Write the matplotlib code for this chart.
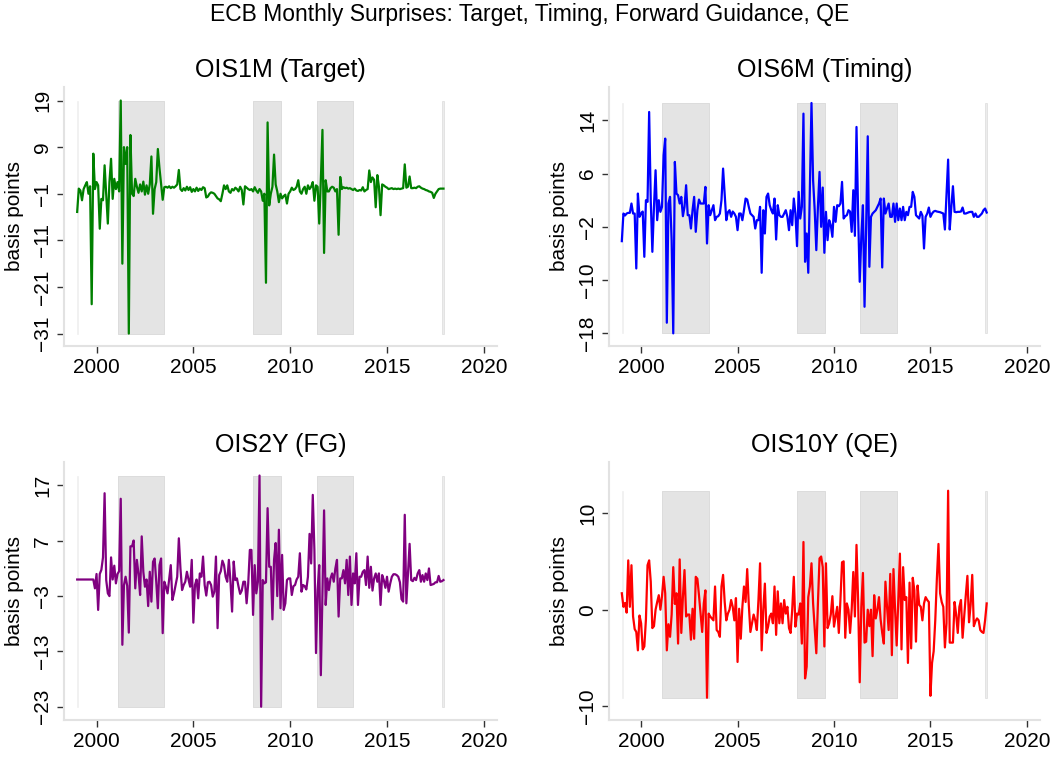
import numpy as np
import pandas as pd
import matplotlib
matplotlib.use("Agg")
import matplotlib.pyplot as plt

plt.rcParams["font.family"] = ["Liberation Sans", "DejaVu Sans"]

# monthly surprises, Jan 1999 - Dec 2017 (basis points), one row per year
ois1m = [
    -4.9, 0.1, -0.3, -2.4, 0.0, 0.8, 1.5, -1.0, 0.6, -24.7, 7.6, 0.0,
    1.5, 0.8, -8.5, -2.1, -2.4, 5.1, -1.0, -7.4, 1.5, 6.5, -2.1, 2.2,
    0.0, 1.5, -0.5, 19.0, -16.0, 9.0, 5.4, 9.0, -31.0, 11.6, -1.0, -1.5,
    2.2, 0.5, -0.8, 1.0, -0.5, 1.6, -1.2, 0.8, -1.0, 1.0, 7.0, -5.3,
    0.0, 1.5, 8.6, 4.5, 1.0, -2.3, 0.4, 0.5, 0.3, 0.6, 0.2, 0.5,
    0.3, 0.6, 1.0, 4.1, 0.0, -0.4, 0.2, -0.3, 0.5, -0.2, 0.4, -0.6,
    0.0, -0.5, 0.3, -0.4, 0.1, -0.2, 0.4, 0.2, -1.8, -1.6, -1.0, -0.7,
    -0.8, -1.0, -1.5, -2.0, -2.2, -2.6, -1.0, 0.8, 0.0, 0.8, -0.5, -0.8,
    0.0, -0.3, 0.3, 0.0, -0.5, 0.5, -0.2, -3.3, 0.6, 0.3, 0.0, -0.2,
    0.0, -0.5, 0.4, -0.3, -0.8, 0.0, -0.5, -2.5, -1.0, -20.1, 14.3, -3.5,
    -1.0, 0.5, 7.4, 1.0, -0.5, -2.8, -1.0, -2.0, -1.5, -1.2, -3.1, -1.0,
    -0.5, 0.3, -0.2, 0.0, 0.5, 1.9, -0.5, -1.0, 0.0, 0.5, -1.0, 0.8,
    0.0, 0.5, 1.5, -2.5, 0.8, 0.5, -7.4, 2.0, 12.7, -13.7, 1.9, -0.5,
    -0.5, 0.2, 0.5, 0.3, -0.5, 0.0, -9.8, 2.6, 0.0, 0.4, 0.2, 0.3,
    0.1, 0.2, 0.0, -0.2, 0.1, -0.3, -0.4, -0.2, -0.3, 0.4, -0.5, -0.2,
    0.0, 4.0, 1.5, 2.5, 2.0, -3.9, 3.0, 0.5, -5.6, 1.0, 0.8, 0.5,
    0.3, 0.0, 0.1, 0.2, 0.0, 0.1, 0.0, 0.1, 0.0, 0.1, 0.2, 5.3,
    0.3, 0.5, 2.7, 0.2, 0.2, 0.3, 0.2, 0.5, 0.6, 0.3, 0.1, 0.0,
    -0.2, -0.3, -0.5, -0.6, -0.8, -1.9, -1.0, -0.5, 0.0, 0.1, 0.1, 0.1,
]

ois6m = [
    -4.15, 0.0, -0.3, 0.0, 0.1, 0.1, 1.5, 0.0, 0.0, -8.25, 3.0, -0.5,
    0.0, 0.3, -6.5, 2.0, 1.75, 15.25, 2.0, -5.75, 1.0, 6.5, -1.0, 2.0,
    0.25, 1.0, 8.75, 11.25, -16.4, 1.5, 2.5, -4.0, -18.0, 7.75, 3.0, 2.75,
    1.5, 2.5, -0.4, 1.0, 4.25, -0.25, -0.25, -2.25, 0.5, 2.5, -2.75, 0.5,
    2.1, 1.5, 1.5, 1.5, 4.0, -4.5, 1.25, -0.25, 0.5, 1.25, -1.0, -0.5,
    -0.4, 0.0, 2.0, 6.75, 3.0, -1.0, 0.2, 0.5, -0.5, 0.3, 0.0, -0.5,
    -2.5, 0.0, 0.0, -1.0, 0.5, 2.25, 2.1, 1.0, 0.0, -0.25, -0.5, -2.25,
    -1.0, -1.0, 1.0, -8.9, 0.5, -3.0, 2.5, 3.0, 1.25, 0.5, 0.0, 2.25,
    -3.9, 1.25, -0.25, -0.5, -0.5, 0.0, 0.5, -0.5, -2.5, 0.5, -1.75, 2.25,
    0.0, -4.9, 3.25, -0.75, 1.0, 15.0, -7.25, -3.0, -8.9, 4.0, 16.6, 5.0,
    0.5, -5.5, 1.0, 6.25, -2.0, 3.9, -5.9, 0.25, -4.0, -1.0, -1.75, -3.5,
    1.0, -1.25, 1.25, 1.1, 1.5, 4.75, -0.75, -0.4, -0.25, 0.5, 0.3, -2.75,
    3.5, -3.35, 13.0, 0.0, -10.25, -3.5, 1.25, -14.0, -2.0, 11.6, -8.0, -0.5,
    0.0, 0.25, 0.5, 1.0, 1.5, 2.25, -8.1, 2.25, 0.0, 0.75, 1.5, -0.5,
    -0.5, 1.5, -1.25, 1.5, -1.0, 0.75, -1.0, 1.0, -1.0, 0.25, -0.25, 1.0,
    1.0, 3.25, 2.5, -0.25, -0.5, -0.75, 0.25, -0.3, -5.25, -0.5, 0.0, 0.9,
    -0.5, 0.0, 0.3, 0.4, 0.3, 0.25, 0.2, 0.1, 0.0, -2.4, 2.8, 8.1,
    -2.4, 1.0, 4.1, 0.25, 0.2, 0.25, 0.25, 0.3, 0.9, 0.0, 0.0, 0.1,
    0.2, 0.25, 0.25, -0.5, 0.0, -0.5, -0.5, -0.25, 0.0, 0.5, 0.75, 0.15,
]

ois2y = [
    0.0, 0.0, 0.0, 0.0, 0.0, 0.0, 0.0, 0.0, 0.0, 0.0, 0.0, -1.6,
    1.0, -5.5, 1.0, 1.75, 4.0, 15.6, -0.1, -2.5, -3.0, 4.0, 0.0, 2.5,
    -0.7, 1.0, 1.5, 14.6, -11.8, -1.0, 0.5, -1.15, -9.6, 6.0, 6.0, 7.05,
    -1.6, 3.55, 1.0, -2.8, 7.8, 1.4, -1.3, 0.0, -4.8, 1.4, -4.0, 3.2,
    3.8, -0.4, -5.2, 2.6, 3.8, -9.7, -0.4, -1.3, -2.5, 0.0, 2.6, -3.7,
    -2.5, -1.0, 0.5, 7.45, 2.0, -1.9, -1.0, -0.4, 1.4, 0.0, -1.3, 3.55,
    -7.8, -1.0, 0.0, -3.4, 1.1, 0.5, 4.15, -1.0, -2.9, -0.5, -0.4, -1.0,
    -3.1, -2.2, 4.15, -8.8, 0.8, 1.5, 3.4, 2.6, 0.5, -0.4, 3.55, -0.4,
    -5.8, 3.25, -0.1, 0.2, -1.3, -2.6, -2.0, -0.4, -0.4, -4.3, -0.7, 5.35,
    5.35, -6.4, 2.6, -2.5, -0.4, 18.8, -23.0, -0.1, -0.7, -0.5, 12.9, 2.3,
    2.3, -7.2, 3.55, 6.6, -3.0, 9.0, -5.2, 4.45, -5.5, -4.3, -0.1, 0.2,
    0.2, -2.8, -1.2, -1.0, 0.0, 0.5, 4.75, -2.2, -1.0, -1.2, -1.8, 0.5,
    8.25, 2.9, 15.3, 5.35, -13.3, -1.9, 2.6, -17.3, -1.9, 12.5, -4.6, 0.2,
    -1.9, 0.2, 1.1, -0.4, 2.0, 3.55, -6.7, 0.2, 0.2, 1.7, -0.7, 3.55,
    -2.8, 4.15, -4.6, 1.1, -0.7, 4.75, -4.6, 0.5, 0.5, 1.4, 1.7, -1.0,
    4.15, -1.5, 2.3, -2.0, 0.2, 1.1, -0.4, 1.1, -4.6, 0.8, -0.1, -1.5,
    0.5, -2.2, -0.7, 0.5, 0.95, 0.95, 0.8, 0.5, -0.5, -3.55, -4.0, 11.7,
    -4.3, 1.0, 6.45, -0.1, -0.3, 0.3, -0.1, 1.1, 1.7, -0.4, 0.8, -0.4,
    1.1, -0.1, 2.0, -1.0, -0.9, -0.8, -0.5, -0.5, 0.65, -0.4, -0.3, -0.1,
]

ois10y = [
    1.7, 0.3, 0.7, -0.3, 5.1, 0.3, 4.6, -0.7, -2.0, -2.3, -4.2, -0.6,
    -1.4, -4.1, -3.8, -1.0, 4.6, 5.1, 2.9, -1.9, -1.7, 0.0, 0.8, 1.5,
    0.0, 1.4, 3.4, 1.7, -4.2, -1.5, -2.8, -0.5, 4.4, 0.6, 1.7, -3.5,
    5.2, -2.4, 1.3, 4.1, -0.7, -0.5, -0.5, -3.1, 0.1, -3.0, 3.4, 3.2,
    1.5, -0.4, -2.3, 0.65, 2.0, -9.1, -0.4, -0.7, -0.9, -1.1, 2.4, -2.1,
    -2.3, -2.8, 2.4, 3.6, 0.8, -1.1, -0.4, 0.0, 1.0, 0.3, -1.1, 1.2,
    -5.4, 0.1, -3.0, 0.3, 2.4, 0.8, 4.2, 0.5, -2.3, -1.4, -0.5, -1.1,
    -2.1, 1.0, 4.8, -4.2, 0.0, 2.7, -2.4, -1.75, -0.7, -0.4, -1.4, 2.4,
    -2.6, 1.9, -1.4, 0.65, -1.4, 1.0, -0.4, 0.3, -1.9, -2.4, 0.0, 3.4,
    -1.75, -0.4, -0.5, 0.65, -3.5, 7.0, -7.1, -5.9, 1.3, 2.4, 4.8, 0.65,
    -2.0, -4.5, 0.65, 5.3, 5.5, 4.4, -3.8, 4.8, -1.9, -1.4, -0.5, 1.4,
    -1.75, -0.7, 0.3, -2.4, 1.0, 4.9, 5.0, -2.9, 0.65, 0.0, -2.4, 0.0,
    3.9, -0.7, 6.7, 1.0, -7.5, 0.3, 3.8, -3.4, -3.3, 0.0, -1.7, 0.0,
    -4.8, 1.5, -0.9, 0.0, 1.3, -1.0, -2.4, -3.5, 2.9, 0.3, -2.1, 3.7,
    -4.7, 4.2, 0.0, -3.7, 1.0, 5.8, -4.1, 4.4, 1.0, 1.3, -5.5, 2.8,
    -4.0, 3.3, 2.0, -3.3, 2.5, 0.5, 0.3, -1.1, 0.65, 1.3, 1.0, 0.8,
    -8.9, -5.5, -4.3, -1.1, 3.2, 6.8, 1.7, 0.8, 0.3, -3.9, -1.4, 12.3,
    -3.4, -3.4, -3.4, 0.8, -0.5, -2.4, 0.3, 1.0, -2.9, -0.7, 1.5, 3.5,
    -1.3, 0.5, 3.6, -1.7, -1.2, -0.9, -1.1, -2.1, -2.3, -2.4, -1.1, 0.65,
]

titles = ["OIS1M (Target)", "OIS6M (Timing)", "OIS2Y (FG)", "OIS10Y (QE)"]
colors = ["green", "blue", "purple", "red"]
yticks = [[-31, -21, -11, -1, 9, 19], [-18, -10, -2, 6, 14],
          [-23, -13, -3, 7, 17], [-10, 0, 10]]
ylims = [(-33.6, 21.9), (-19.85, 19.0), (-25.4, 21.3), (-11.4, 15.3)]

# shaded periods (decimal years) with their opacity; the two slivers sit
# at the sample edges
shade_spans = [(1999.0, 1999.05, 0.3), (2001.1, 2003.5, 1.0),
               (2008.1, 2009.52, 1.0), (2011.36, 2013.25, 1.0),
               (2017.83, 2017.92, 0.7)]

dates = pd.date_range("1999-01-01", periods=len(ois1m), freq="MS")
t = dates.year + (dates.month - 1) / 12.0

W, H = 1060, 758
fig = plt.figure(figsize=(W / 100, H / 100), dpi=100)
fig.patch.set_facecolor("white")

# axes boxes in pixels: left, top, right, bottom
boxes = [(64, 87, 497, 345.7), (608.7, 87, 1040, 345.7),
         (64, 461.7, 497, 720), (608.7, 461.7, 1040, 720)]

SPINE = "#e2e2e2"
SHADE = "#e4e4e4"

for k, series in enumerate([ois1m, ois6m, ois2y, ois10y]):
    l, tp, r, b = boxes[k]
    ax = fig.add_axes([l / W, 1 - b / H, (r - l) / W, (b - tp) / H])
    y = np.array(series)
    lo, hi = y.min(), y.max()
    for a, e, alpha in shade_spans:
        ax.fill_between([a, e], lo, hi, facecolor=SHADE,
                        edgecolor="#d8d8d8", lw=0.6, alpha=alpha, zorder=1)
    ax.plot(t, y, color=colors[k], lw=1.6, zorder=3)

    ax.set_xlim(1998.32, 2020.68)
    ax.set_ylim(*ylims[k])
    ax.set_xticks([2000, 2005, 2010, 2015, 2020])
    ax.set_yticks(yticks[k])
    ax.set_yticklabels([str(v).replace("-", "\u2212") for v in yticks[k]],
                       rotation=90, va="center")
    for s in ("top", "right"):
        ax.spines[s].set_visible(False)
    for s in ("left", "bottom"):
        ax.spines[s].set_color(SPINE)
        ax.spines[s].set_linewidth(1.5)
    ax.tick_params(axis="both", length=5, width=1.0, color="#333333",
                   labelsize=15, pad=3.5, labelcolor="black")

    cx = (l + r) / 2 / W
    fig.text(cx, 1 - (tp - 17) / H, titles[k], ha="center", va="center",
             fontsize=18)
    fig.text((l - 49) / W, 1 - (tp + b) / 2 / H, "basis points",
             rotation=90, ha="center", va="center", fontsize=15)

fig.text(0.5, 1 - 15 / H,
         "ECB Monthly Surprises: Target, Timing, Forward Guidance, QE",
         ha="center", va="center", fontsize=16.5)

fig.savefig("out.png", dpi=100, facecolor="white")
